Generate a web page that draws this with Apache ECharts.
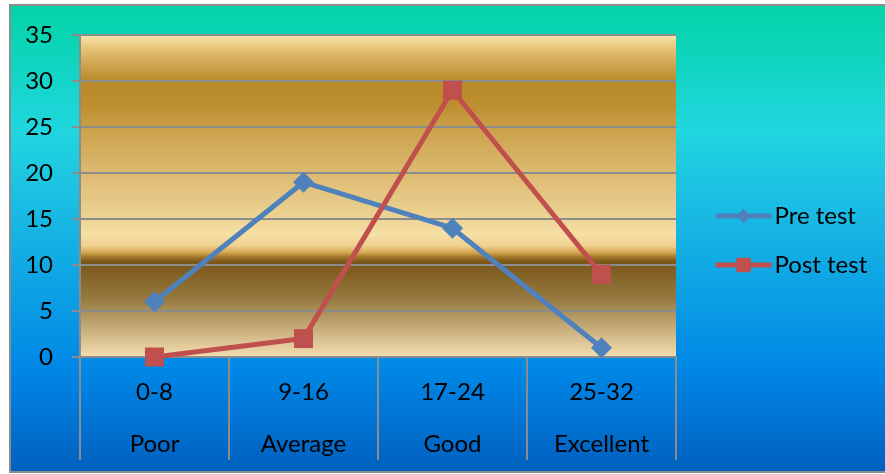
<!DOCTYPE html>
<html>
<head>
<meta charset="utf-8">
<script src="https://cdn.jsdelivr.net/npm/echarts@6/dist/echarts.min.js"></script>
<style>
  html, body { margin: 0; padding: 0; background: #ffffff; }
  #chart { width: 885px; height: 474px; }
</style>
</head>
<body>
<div id="chart"></div>
<script>
// Score bands and their ratings
const scoreRanges = ['0-8', '9-16', '17-24', '25-32'];
const ratings = ['Poor', 'Average', 'Good', 'Excellent'];

// Number of students in each band
const preTest = [6, 19, 14, 1];
const postTest = [0, 2, 29, 9];

// Value axis ticks
const yMin = 0;
const yMax = 35;
const yStep = 5;

const FONT = 'Lato, "Open Sans", sans-serif';
const FONT_SIZE = 24;

const chart = echarts.init(document.getElementById('chart'), null, { renderer: 'canvas' });

const outerFill = new echarts.graphic.LinearGradient(0, 0, 0, 1, [
  { offset: 0.00, color: '#02D4A6' },
  { offset: 0.27, color: '#20D6DF' },
  { offset: 0.42, color: '#1BBEE3' },
  { offset: 0.78, color: '#0087E6' },
  { offset: 1.00, color: '#015FBF' }
]);

const plotFill = new echarts.graphic.LinearGradient(0, 0, 0, 1, [
  { offset: 0.00, color: '#FAE4AA' },
  { offset: 0.05, color: '#E2BE72' },
  { offset: 0.14, color: '#B98A2A' },
  { offset: 0.22, color: '#BE8F30' },
  { offset: 0.30, color: '#CCA34D' },
  { offset: 0.43, color: '#DDBA72' },
  { offset: 0.56, color: '#EBD192' },
  { offset: 0.62, color: '#F7E0A6' },
  { offset: 0.655, color: '#EFD08E' },
  { offset: 0.675, color: '#D5A852' },
  { offset: 0.69, color: '#A07628' },
  { offset: 0.705, color: '#7A5518' },
  { offset: 0.82, color: '#967A40' },
  { offset: 0.91, color: '#C6AC7A' },
  { offset: 1.00, color: '#F4DEB0' }
]);

chart.setOption({
  backgroundColor: '#ffffff',
  animation: false,
  graphic: [{
    type: 'rect',
    z: -10,
    silent: true,
    shape: { x: 10, y: 5, width: 885, height: 467 },
    style: { fill: outerFill, stroke: '#8C8C8C', lineWidth: 2 }
  }],
  grid: {
    left: 80, top: 35, width: 596, height: 322,
    show: true,
    backgroundColor: plotFill,
    borderWidth: 0
  },
  legend: {
    orient: 'vertical',
    left: 708,
    top: 197,
    itemWidth: 56,
    itemHeight: 18,
    itemGap: 21,
    lineStyle: { width: 5 },
    textStyle: { fontFamily: FONT, fontSize: FONT_SIZE, color: '#000000', lineHeight: 28, padding: [0, 0, 0, -2] },
    data: ['Pre test', 'Post test']
  },
  xAxis: {
    type: 'category',
    data: scoreRanges,
    boundaryGap: true,
    axisLine: { show: true, lineStyle: { color: '#8C8C8C', width: 2 } },
    axisTick: { show: true, length: 103, interval: 0, lineStyle: { color: '#8C8C8C', width: 2 } },
    axisLabel: {
      interval: 0,
      margin: 9,
      fontFamily: FONT,
      fontSize: FONT_SIZE,
      color: '#000000',
      lineHeight: 52,
      formatter: (v, i) => v + '\n' + ratings[i]
    },
    splitLine: { show: false }
  },
  yAxis: {
    type: 'value',
    min: yMin,
    max: yMax,
    interval: yStep,
    axisLine: { show: true, lineStyle: { color: '#8C8C8C', width: 2 } },
    axisTick: { show: true, length: 8, lineStyle: { color: '#8C8C8C', width: 2 } },
    axisLabel: { margin: 27, fontFamily: FONT, fontSize: FONT_SIZE, color: '#000000' },
    splitLine: { show: true, lineStyle: { color: '#8C8C8C', width: 2 } }
  },
  series: [
    {
      name: 'Pre test',
      type: 'line',
      data: preTest,
      symbol: 'diamond',
      symbolSize: 21,
      lineStyle: { color: '#4F81BD', width: 5 },
      itemStyle: { color: '#4F81BD' },
      z: 3
    },
    {
      name: 'Post test',
      type: 'line',
      data: postTest,
      symbol: 'rect',
      symbolSize: 19,
      lineStyle: { color: '#C0504D', width: 5 },
      itemStyle: { color: '#C0504D' },
      z: 4
    }
  ]
});
</script>
</body>
</html>
